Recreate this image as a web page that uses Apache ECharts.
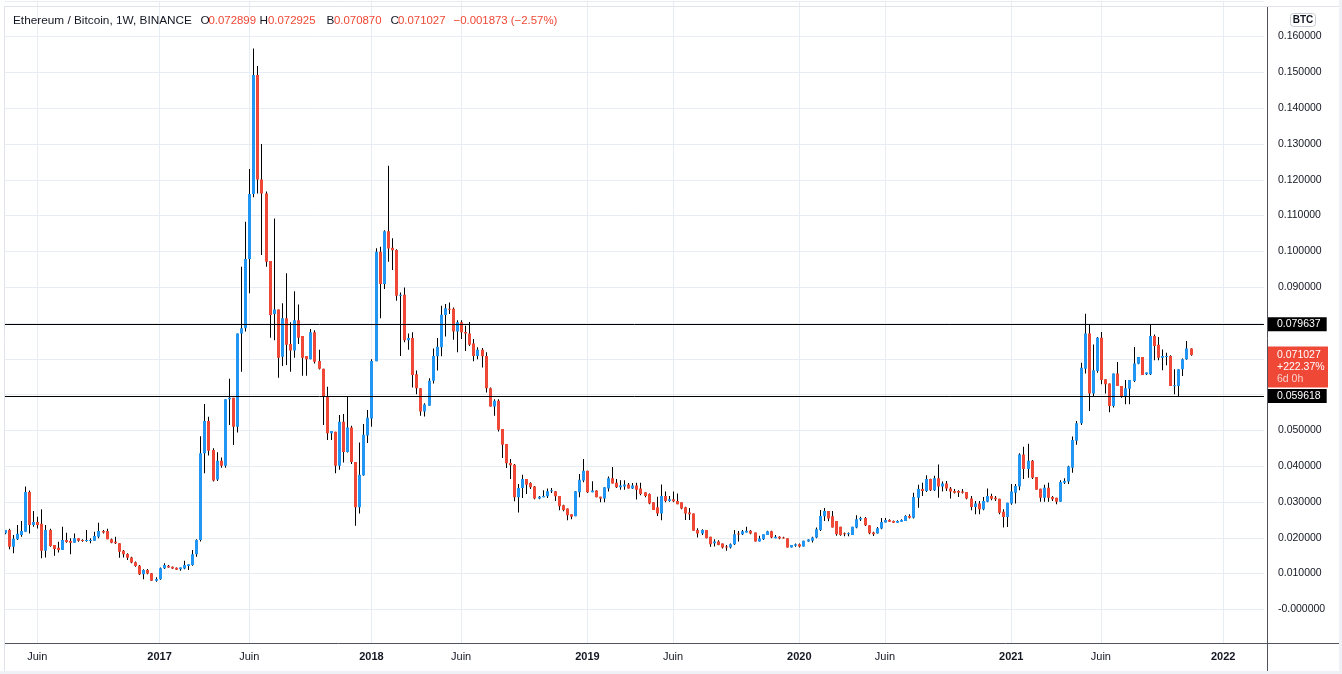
<!DOCTYPE html>
<html>
<head>
<meta charset="utf-8">
<title>Ethereum / Bitcoin, 1W, BINANCE</title>
<script src="https://cdn.jsdelivr.net/npm/echarts@6/dist/echarts.min.js"></script>
<style>
html, body { margin: 0; padding: 0; background: #fff; }
#chart { width: 1342px; height: 674px; }
</style>
</head>
<body>
<div id="chart"></div>
<script>
// ETH/BTC weekly candles, values in thousandths of BTC, first week starts 2016-04-11
var firstWeek = Date.UTC(2016, 3, 11);
var futureWeeks = 18;

var openM = [21.3,
  22.2, 17.5, 19.6, 20.8, 21.7, 32.8, 23.6, 24.4, 23.9, 16.4,
  22.2, 18.0, 17.2, 16.6, 19.4, 19.1, 18.6, 19.9, 19.4, 19.2,
  19.2, 19.2, 20.3, 21.9, 21.9, 19.6, 18.9, 18.5, 16.4, 15.5,
  14.5, 13.2, 12.2, 9.8, 11.0, 10.1, 8.0, 8.4, 11.5, 12.2,
  11.9, 11.6, 11.2, 11.4, 12.1, 12.4, 15.4, 19.4, 43.6, 52.6,
  44.5, 36.3, 41.5, 40.1, 58.7, 59.1, 51.0, 77.1, 78.5, 97.9,
  116.0, 149.3, 120.1, 116.2, 97.3, 82.5, 83.8, 70.6, 81.3, 74.1,
  72.3, 80.8, 76.4, 70.8, 69.9, 77.4, 69.4, 67.2, 59.4, 49.2,
  49.6, 40.1, 52.4, 44.0, 50.8, 41.2, 28.5, 37.5, 48.6, 53.3,
  69.3, 99.9, 90.9, 105.6, 101.0, 100.4, 87.6, 87.9, 75.2, 75.8,
  65.7, 61.8, 55.3, 56.9, 63.9, 70.7, 73.2, 82.2, 84.0, 84.0,
  77.6, 80.2, 77.5, 77.1, 74.3, 70.8, 72.5, 70.8, 61.8, 56.7,
  58.3, 50.4, 46.2, 40.9, 40.4, 31.3, 33.9, 36.4, 35.3, 34.3,
  31.0, 31.3, 31.6, 33.0, 33.0, 31.7, 29.1, 28.2, 26.6, 26.0,
  32.7, 36.0, 38.7, 32.7, 33.2, 31.5, 31.0, 33.8, 36.6, 35.4,
  34.1, 34.3, 34.9, 33.8, 34.6, 33.8, 32.7, 32.2, 29.9, 28.5,
  26.8, 31.7, 30.3, 30.8, 30.3, 29.9, 28.5, 27.1, 26.8, 22.2,
  21.2, 22.2, 20.3, 18.5, 19.0, 18.4, 17.6, 17.3, 18.2, 21.2,
  21.0, 21.5, 22.0, 21.5, 19.0, 19.6, 20.8, 21.8, 19.9, 20.3,
  20.1, 19.9, 17.3, 17.8, 18.2, 17.6, 19.0, 19.2, 20.1, 22.2,
  26.0, 27.5, 26.0, 24.7, 23.1, 21.3, 21.0, 20.8, 22.9, 25.1,
  25.5, 23.5, 21.5, 21.2, 22.6, 24.3, 25.0, 24.7, 24.2, 24.5,
  24.7, 26.1, 25.6, 31.2, 33.6, 33.1, 36.4, 33.3, 36.6, 34.3,
  35.2, 33.8, 33.1, 33.1, 32.9, 32.8, 31.0, 28.6, 29.6, 28.0,
  30.1, 31.7, 31.2, 30.9, 27.3, 25.8, 29.6, 32.6, 34.3, 43.3,
  39.2, 41.5, 37.0, 33.7, 31.2, 34.0, 31.4, 31.2, 30.1, 35.4,
  35.7, 39.6, 47.1, 52.0, 67.2, 77.1, 60.3, 66.6, 75.9, 64.3,
  63.1, 56.8, 65.9, 62.4, 59.4, 61.6, 63.8, 68.6, 70.5, 65.7,
  65.7, 76.4, 73.9, 70.3, 70.5, 70.8, 62.4, 62.4, 67.1, 69.9, 72.899];

var highM = [22.2,
  22.5, 20.8, 23.6, 24.7, 34.3, 33.2, 27.5, 25.9, 28.0, 23.6,
  22.5, 18.0, 18.9, 23.1, 21.4, 19.9, 21.2, 19.9, 19.6, 22.2,
  19.9, 21.7, 24.2, 22.2, 22.5, 19.8, 20.3, 18.5, 16.6, 15.7,
  14.7, 13.4, 12.4, 11.2, 11.3, 10.2, 9.0, 11.7, 12.9, 12.4,
  12.0, 11.7, 11.7, 13.6, 12.6, 16.6, 19.6, 48.4, 57.4, 53.8,
  45.0, 43.9, 42.4, 58.7, 64.4, 59.1, 77.1, 95.7, 108.3, 123.0,
  156.7, 151.8, 130.0, 116.7, 97.3, 109.2, 83.8, 85.5, 93.9, 80.2,
  88.9, 85.2, 76.4, 70.8, 78.3, 78.0, 72.5, 67.2, 62.2, 49.8,
  49.6, 54.3, 54.6, 59.5, 51.3, 41.2, 46.6, 51.8, 55.7, 69.9,
  100.9, 101.3, 105.9, 123.9, 103.7, 100.6, 88.5, 89.9, 77.1, 77.4,
  66.7, 61.8, 57.6, 64.6, 72.9, 75.8, 84.8, 85.3, 85.7, 84.3,
  80.8, 80.8, 79.2, 80.3, 75.5, 73.2, 73.0, 71.8, 62.0, 58.7,
  58.7, 50.4, 46.2, 42.0, 40.6, 35.0, 37.6, 36.4, 35.5, 34.5,
  31.7, 33.3, 33.8, 33.9, 33.1, 31.7, 29.2, 28.2, 26.6, 33.1,
  37.8, 42.0, 38.7, 35.8, 33.3, 31.5, 34.1, 37.1, 39.8, 36.4,
  36.1, 36.1, 35.3, 35.3, 35.4, 35.4, 32.7, 32.4, 29.9, 31.5,
  34.9, 32.9, 31.7, 32.9, 32.4, 29.9, 28.7, 28.3, 26.8, 22.7,
  22.4, 22.2, 20.3, 19.6, 19.3, 18.4, 18.0, 18.4, 22.2, 21.9,
  22.2, 23.1, 22.2, 21.5, 20.6, 21.0, 22.0, 22.0, 20.8, 20.4,
  20.3, 19.9, 18.0, 18.4, 18.4, 19.2, 19.6, 20.3, 22.9, 27.8,
  28.3, 27.5, 27.5, 24.7, 23.1, 21.5, 21.5, 23.1, 26.3, 25.9,
  25.8, 23.5, 21.7, 23.0, 25.5, 25.5, 25.2, 24.8, 24.9, 25.2,
  26.3, 26.6, 32.6, 34.8, 35.4, 37.5, 36.5, 37.3, 40.5, 35.7,
  35.9, 34.2, 33.6, 33.3, 33.6, 32.8, 31.7, 30.3, 30.3, 31.4,
  33.8, 32.3, 31.7, 30.9, 28.0, 29.8, 35.0, 35.0, 43.6, 45.4,
  46.3, 41.7, 37.0, 33.7, 34.8, 35.4, 31.7, 31.2, 36.1, 36.6,
  40.1, 48.3, 52.6, 68.9, 82.6, 79.6, 74.0, 76.1, 77.5, 64.3,
  63.1, 65.9, 69.1, 62.4, 64.1, 64.1, 73.3, 70.5, 70.5, 66.2,
  79.6, 76.8, 76.1, 72.6, 71.7, 71.0, 67.1, 67.1, 70.1, 75.0, 72.925];

var lowM = [21.0,
  16.8, 15.7, 19.4, 20.3, 21.7, 21.2, 23.1, 22.6, 14.3, 14.5,
  17.5, 15.0, 15.9, 16.6, 18.6, 15.4, 18.6, 18.9, 18.9, 18.9,
  18.5, 19.2, 19.9, 21.2, 19.6, 18.5, 18.3, 14.4, 14.5, 13.8,
  12.9, 11.9, 9.6, 8.4, 9.8, 7.9, 7.7, 8.3, 11.3, 11.6,
  11.3, 11.0, 10.8, 11.2, 11.0, 12.2, 14.7, 19.0, 38.0, 43.0,
  35.7, 35.9, 39.6, 39.6, 51.5, 45.9, 49.4, 66.4, 77.6, 88.3,
  115.1, 116.2, 99.0, 95.7, 75.9, 75.2, 64.7, 68.0, 68.3, 66.4,
  70.3, 74.1, 65.3, 65.3, 69.9, 68.7, 67.0, 51.5, 47.3, 47.3,
  38.0, 39.0, 41.0, 43.8, 40.6, 23.4, 26.8, 37.3, 46.5, 51.0,
  69.3, 81.3, 89.5, 97.1, 94.8, 86.2, 70.8, 74.6, 72.5, 62.0,
  60.1, 54.1, 53.9, 56.9, 63.1, 66.7, 70.7, 76.2, 82.5, 75.3,
  71.8, 75.5, 72.2, 73.6, 69.3, 69.9, 67.6, 60.6, 56.7, 54.1,
  49.7, 42.3, 39.5, 36.4, 30.2, 27.1, 31.1, 32.2, 33.6, 30.8,
  30.8, 31.3, 31.1, 32.5, 30.3, 27.7, 27.4, 24.9, 25.2, 26.0,
  31.3, 35.5, 32.5, 32.7, 31.3, 29.9, 29.9, 32.9, 35.2, 33.9,
  33.4, 33.4, 33.8, 33.6, 30.7, 31.9, 31.3, 29.4, 27.8, 26.1,
  24.9, 29.9, 30.1, 29.9, 29.4, 28.0, 25.0, 25.0, 22.0, 20.1,
  20.8, 19.9, 17.5, 17.6, 17.9, 17.0, 16.4, 17.0, 18.0, 19.0,
  20.8, 21.5, 21.0, 19.0, 19.0, 19.4, 20.8, 19.9, 19.9, 19.6,
  19.8, 17.3, 17.3, 17.5, 17.3, 17.6, 18.9, 18.7, 19.9, 21.9,
  24.7, 24.6, 22.9, 20.6, 20.6, 20.4, 20.4, 20.8, 22.7, 24.7,
  23.3, 21.0, 20.5, 21.2, 22.4, 24.3, 24.4, 24.2, 24.2, 24.5,
  24.7, 25.4, 25.4, 28.4, 31.7, 32.8, 33.1, 33.1, 31.2, 32.9,
  33.1, 31.0, 32.4, 31.4, 32.4, 30.8, 27.7, 26.6, 26.6, 27.7,
  29.9, 30.5, 30.3, 26.6, 22.9, 23.0, 29.2, 29.6, 33.3, 36.4,
  36.8, 36.4, 33.4, 30.1, 30.1, 30.1, 30.3, 29.4, 30.1, 35.0,
  35.0, 38.2, 46.0, 51.5, 65.9, 55.4, 59.6, 66.1, 62.9, 60.3,
  55.1, 56.4, 62.4, 59.1, 57.3, 57.3, 63.5, 68.5, 65.5, 65.5,
  65.5, 69.6, 69.6, 66.8, 68.2, 62.4, 60.1, 59.6, 65.2, 69.7, 70.870];

var closeM = [22.2,
  17.5, 19.7, 21.1, 21.9, 32.8, 23.6, 24.4, 23.6, 16.4, 22.2,
  17.7, 16.9, 16.6, 19.4, 18.8, 18.6, 19.9, 19.2, 19.1, 19.4,
  19.4, 20.5, 21.9, 21.5, 19.6, 18.6, 18.5, 16.1, 15.4, 14.4,
  13.1, 12.1, 9.8, 11.0, 10.0, 8.0, 8.5, 11.5, 12.4, 11.7,
  11.4, 11.1, 11.7, 12.4, 12.6, 15.4, 19.4, 43.6, 52.6, 44.3,
  36.0, 41.5, 40.1, 58.7, 59.1, 51.0, 77.1, 78.5, 97.9, 116.0,
  149.3, 120.1, 116.2, 97.1, 82.2, 83.8, 70.3, 81.3, 73.9, 72.3,
  80.8, 75.9, 70.3, 69.9, 77.4, 69.2, 67.2, 59.4, 49.2, 49.8,
  40.1, 52.4, 44.0, 50.8, 41.2, 28.5, 37.6, 48.8, 53.5, 69.4,
  99.9, 90.9, 105.6, 100.8, 100.3, 87.6, 87.9, 75.2, 75.8, 65.5,
  61.8, 55.3, 57.2, 63.9, 70.8, 73.4, 82.3, 84.1, 83.7, 77.6,
  80.2, 77.4, 77.1, 73.9, 70.8, 72.5, 70.7, 61.8, 56.7, 58.3,
  50.2, 46.0, 40.8, 40.3, 31.3, 33.9, 36.4, 34.8, 34.1, 31.0,
  31.5, 31.7, 33.0, 33.3, 31.6, 28.8, 27.8, 26.3, 25.9, 33.0,
  36.2, 38.7, 32.7, 33.2, 31.3, 31.0, 34.1, 36.6, 35.2, 34.1,
  34.6, 34.9, 33.8, 34.6, 33.4, 32.2, 31.7, 29.6, 27.8, 26.8,
  31.7, 30.3, 30.8, 30.2, 29.4, 28.2, 26.8, 26.6, 22.0, 21.2,
  22.2, 19.9, 18.2, 19.0, 18.0, 17.3, 17.3, 18.2, 21.0, 21.0,
  21.8, 22.0, 21.2, 19.0, 19.8, 21.0, 21.8, 20.1, 20.3, 19.8,
  19.8, 17.3, 18.0, 18.2, 17.6, 19.2, 19.5, 20.1, 22.4, 26.1,
  27.5, 25.4, 22.9, 21.0, 20.8, 21.0, 21.3, 23.1, 25.2, 25.5,
  23.5, 21.3, 21.0, 22.7, 24.4, 25.0, 24.5, 24.2, 24.7, 25.0,
  26.1, 25.6, 31.4, 33.6, 33.1, 36.4, 33.3, 36.6, 34.3, 35.2,
  33.8, 32.9, 32.6, 32.6, 32.6, 31.0, 28.6, 29.6, 28.0, 30.3,
  31.7, 30.9, 30.8, 27.0, 25.8, 29.8, 32.9, 34.5, 43.3, 39.2,
  41.5, 36.8, 33.4, 31.2, 34.0, 31.2, 30.8, 30.1, 35.6, 35.9,
  39.9, 47.3, 52.0, 67.5, 77.1, 60.3, 66.8, 75.9, 64.1, 62.9,
  56.8, 65.9, 62.4, 59.4, 61.8, 64.1, 68.7, 70.5, 65.5, 66.2,
  76.4, 73.6, 70.3, 70.8, 70.8, 62.4, 62.6, 67.1, 69.9, 72.9, 71.027];

// horizontal levels drawn on the chart (mBTC)
var levelLines = [79.637, 59.618];
var changeSinceStart = '+222.37%';
var barCountdown = '6d 0h';

var UP = '#2196f3';
var DOWN = '#ef4836';
var GRID_C = '#e8edf3';
var TEXT_C = '#131722';
var FONT = '"Liberation Sans", Arial, sans-serif';

var weeks = [];
for (var i = 0; i < openM.length + futureWeeks; i++) {
    weeks.push(new Date(firstWeek + i * 7 * 86400000).toISOString().slice(0, 10));
}

var candles = openM.map(function (o, i) {
    return [i, o, closeM[i], lowM[i], highM[i]];
});

var fmt = function (v) { return (v / 1000).toFixed(6); };

function isMarkWeek(idx, value) {
    var d = new Date(value + 'T00:00:00Z');
    return d.getUTCDate() <= 7 && (d.getUTCMonth() === 0 || d.getUTCMonth() === 5);
}

function renderCandle(params, api) {
    var i = api.value(0);
    var o = api.value(1), c = api.value(2), l = api.value(3), h = api.value(4);
    var pO = api.coord([i, o]), pC = api.coord([i, c]);
    var pH = api.coord([i, h]), pL = api.coord([i, l]);
    var x = Math.round(pO[0]);
    var top = Math.min(pO[1], pC[1]), bot = Math.max(pO[1], pC[1]);
    return {
        type: 'group',
        children: [
            { type: 'rect', shape: { x: x, y: pH[1], width: 1, height: Math.max(pL[1] - pH[1], 1) }, style: { fill: '#000' } },
            { type: 'rect', shape: { x: x - 1, y: top, width: 3, height: Math.max(bot - top, 1) }, style: { fill: c >= o ? UP : DOWN } }
        ]
    };
}

var myChart = echarts.init(document.getElementById('chart'));

myChart.setOption({
    animation: false,
    backgroundColor: '#fff',
    grid: { left: 4.725, right: 78.1, top: 0.8, bottom: 28.8 },
    xAxis: [
        {
            type: 'category',
            data: weeks,
            boundaryGap: false,
            axisLine: { show: false },
            axisTick: { show: false },
            axisLabel: { show: false },
            splitLine: { show: true, interval: isMarkWeek, lineStyle: { color: GRID_C, width: 1 } }
        },
        {
            type: 'category',
            data: weeks,
            position: 'bottom',
            boundaryGap: false,
            z: 120,
            axisLine: { show: false },
            axisTick: { show: false },
            splitLine: { show: false },
            axisLabel: {
                interval: isMarkWeek,
                margin: 6,
                formatter: function (value) {
                    var d = new Date(value + 'T00:00:00Z');
                    return d.getUTCMonth() === 0 ? '{y|' + d.getUTCFullYear() + '}' : '{m|Juin}';
                },
                rich: {
                    y: { fontFamily: FONT, fontSize: 11, fontWeight: 'bold', color: TEXT_C },
                    m: { fontFamily: FONT, fontSize: 11, color: TEXT_C }
                }
            }
        }
    ],
    yAxis: {
        type: 'value',
        position: 'right',
        min: -10,
        max: 170,
        interval: 10,
        axisLine: { show: false },
        axisTick: { show: false },
        axisLabel: {
            margin: 14,
            color: TEXT_C,
            fontFamily: FONT,
            fontSize: 10.5,
            formatter: function (v) {
                if (v < 0 || v > 160) return '';
                if (v === 0) return '-0.000000';
                return fmt(v);
            }
        },
        splitLine: { lineStyle: { color: GRID_C, width: 1 } }
    },
    series: [
        {
            type: 'custom',
            name: 'ETHBTC',
            renderItem: renderCandle,
            clip: true,
            encode: { x: 0, y: [1, 2, 3, 4] },
            data: candles
        },
        {
            type: 'line',
            name: 'niveaux',
            data: [],
            clip: false,
            markLine: {
                silent: true,
                symbol: ['none', 'none'],
                precision: 3,
                lineStyle: { color: '#000', width: 1, type: 'solid' },
                label: {
                    position: 'end',
                    distance: 4,
                    color: '#fff',
                    backgroundColor: '#000',
                    padding: [2, 6, 1, 9],
                    lineHeight: 11,
                    fontFamily: FONT,
                    fontSize: 10.5,
                    formatter: '{b}'
                },
                data: levelLines.map(function (v) { return { yAxis: v, name: fmt(v) }; })
            }
        }
    ]
});

// header and price-scale decorations
var last = openM.length - 1;
var diff = closeM[last] - closeM[last - 1];
var pct = diff / closeM[last - 1] * 100;
var diffText = (diff < 0 ? '\u2212' : '+') + fmt(Math.abs(diff)) + ' (' + (pct < 0 ? '\u2212' : '+') + Math.abs(pct).toFixed(2) + '%)';
var py = myChart.convertToPixel({ xAxisIndex: 0, yAxisIndex: 0 }, [last, closeM[last]])[1];

function txt(x, y, s, color, size) {
    return { type: 'text', z: 130, style: { x: x, y: y, text: s, fill: color, font: size + 'px ' + FONT, textVerticalAlign: 'middle' } };
}

myChart.setOption({
    graphic: [
        // white strip under the time scale
        { type: 'rect', z: 100, shape: { x: 5.5, y: 644, width: 1261.5, height: 27 }, style: { fill: '#fff' } },
        // outer frame
        { type: 'rect', z: 115, shape: { x: 1339, y: 0, width: 3, height: 674 }, style: { fill: '#eef1f6' } },
        { type: 'rect', z: 115, shape: { x: 0, y: 671, width: 1342, height: 3 }, style: { fill: '#eef1f6' } },
        { type: 'line', z: 115, shape: { x1: 5, y1: 6.5, x2: 1339, y2: 6.5 }, style: { stroke: '#e0e3eb', lineWidth: 1 } },
        { type: 'line', z: 115, shape: { x1: 4.5, y1: 6, x2: 4.5, y2: 671 }, style: { stroke: '#e0e3eb', lineWidth: 1 } },
        // pane separators
        { type: 'line', z: 110, shape: { x1: 5, y1: 643.5, x2: 1339, y2: 643.5 }, style: { stroke: '#50535e', lineWidth: 1 } },
        { type: 'line', z: 110, shape: { x1: 1267.5, y1: 6, x2: 1267.5, y2: 671 }, style: { stroke: '#50535e', lineWidth: 1 } },
        // currency tag
        { type: 'rect', z: 110, shape: { x: 1290.5, y: 13.5, width: 25, height: 13, r: 3 }, style: { fill: '#fff', stroke: '#c9ccd3', lineWidth: 1 } },
        { type: 'text', z: 111, style: { x: 1303, y: 20.5, text: 'BTC', fill: TEXT_C, font: 'bold 10px ' + FONT, textAlign: 'center', textVerticalAlign: 'middle' } },
        // last price tag
        { type: 'rect', z: 105, shape: { x: 1268, y: py - 8.5, width: 60, height: 41 }, style: { fill: DOWN } },
        { type: 'text', z: 106, style: { x: 1277, y: py, text: fmt(closeM[last]), fill: '#fff', font: '10.5px ' + FONT, textVerticalAlign: 'middle' } },
        { type: 'text', z: 106, style: { x: 1277, y: py + 12, text: changeSinceStart, fill: '#fff', font: '10.5px ' + FONT, textVerticalAlign: 'middle' } },
        { type: 'text', z: 106, style: { x: 1277, y: py + 24, text: barCountdown, fill: 'rgba(255,255,255,0.75)', font: '10.5px ' + FONT, textVerticalAlign: 'middle' } },
        // legend line
        txt(13, 21, 'Ethereum / Bitcoin, 1W, BINANCE', TEXT_C, 11.8),
        txt(200.5, 21, 'O', TEXT_C, 11.8), txt(208.5, 21, fmt(openM[last]), DOWN, 11.4),
        txt(259.5, 21, 'H', TEXT_C, 11.8), txt(268, 21, fmt(highM[last]), DOWN, 11.4),
        txt(326.5, 21, 'B', TEXT_C, 11.8), txt(334, 21, fmt(lowM[last]), DOWN, 11.4),
        txt(390.5, 21, 'C', TEXT_C, 11.8), txt(398, 21, fmt(closeM[last]), DOWN, 11.4),
        txt(453.5, 21, diffText, DOWN, 11.4)
    ]
});
</script>
</body>
</html>
